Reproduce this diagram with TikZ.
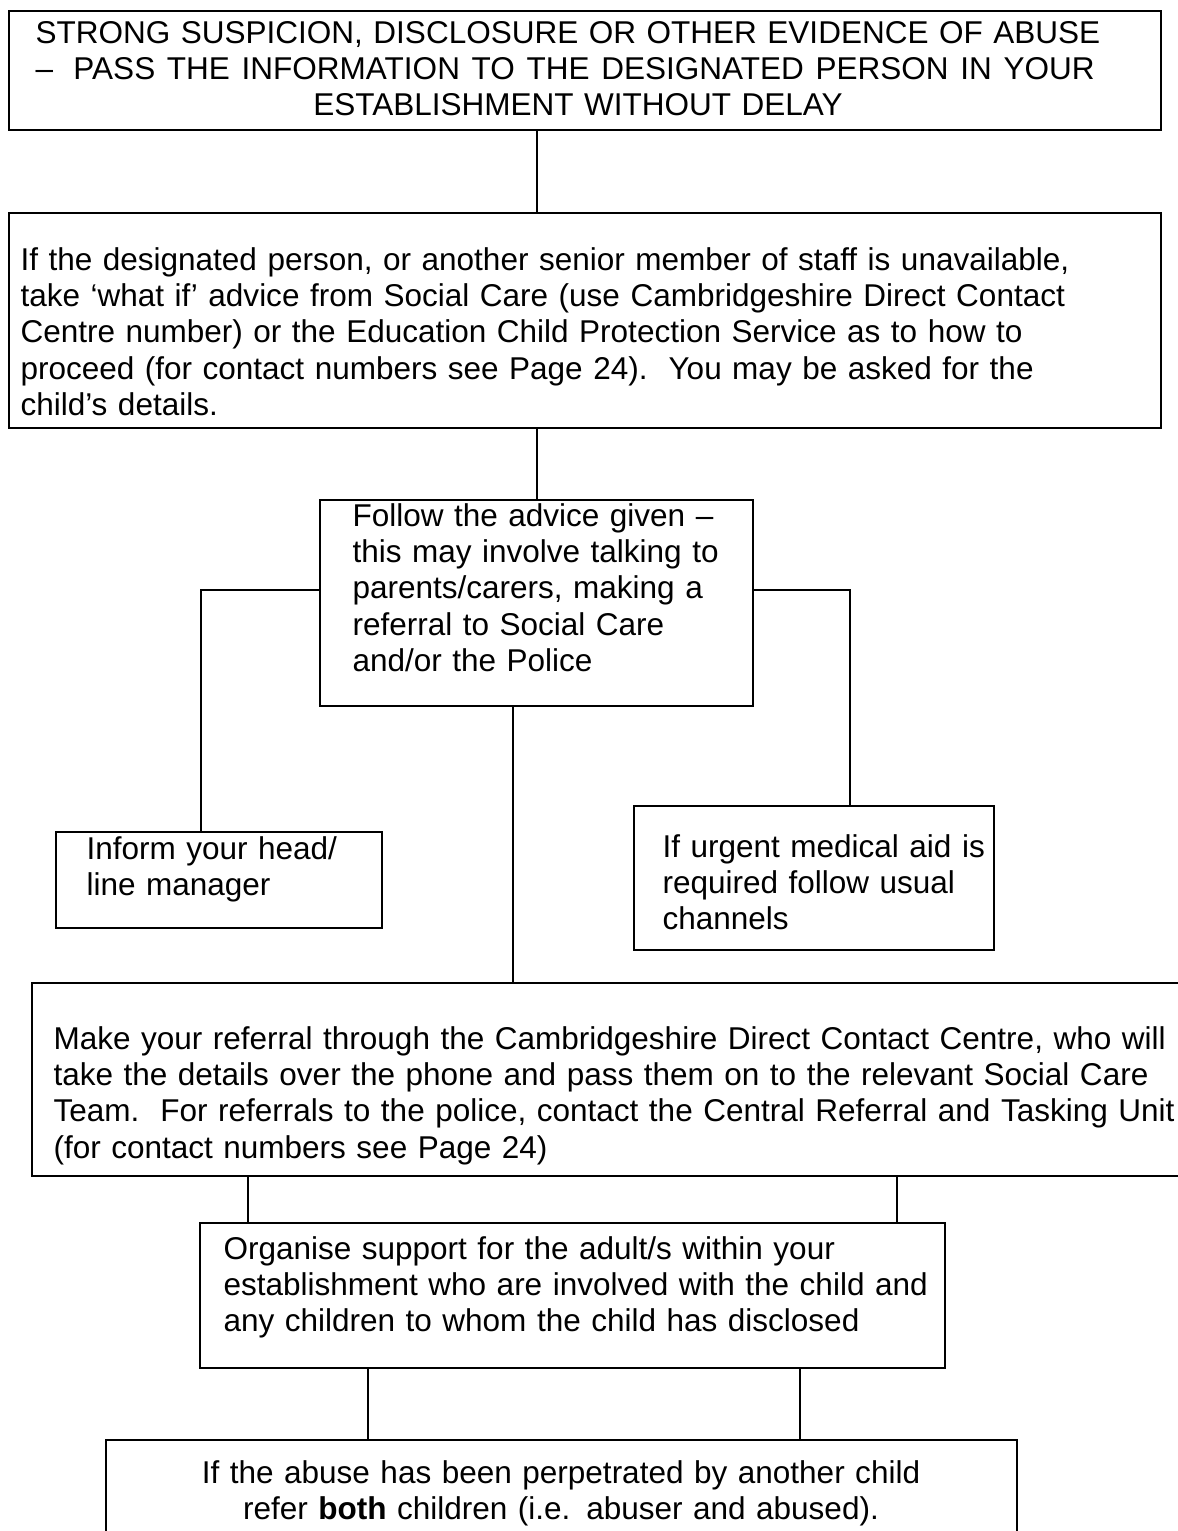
\documentclass[tikz,border=0pt]{standalone}
\usepackage{fontspec}
\setmainfont{Liberation Sans}
\usetikzlibrary{fit}
\begin{document}
\begin{tikzpicture}[x=0.3871pt,y=-0.3871pt,
  box/.style={draw,line width=0.8pt,inner sep=0pt},
  txt/.style={inner sep=0pt,anchor=base west,align=left,text width=460pt,font=\fontsize{12.2}{14.1}\selectfont},
  ctxt/.style={inner sep=0pt,anchor=base,align=center,text width=460pt,font=\fontsize{12.2}{14.1}\selectfont},
  link/.style={line width=0.55pt}]
\useasboundingbox (0,0) rectangle (1178,1531);
% boxes
\node[box,fit={(9,11) (1161,130)}] (b1) {};
\node[box,fit={(9,213) (1161,428)}] (b2) {};
\node[box,fit={(320,500) (753,706)}] (b3) {};
\node[box,fit={(56,832) (382,928)}] (b4) {};
\node[box,fit={(634,806) (994,950)}] (b5) {};
\node[box,fit={(32,983) (1200,1176)}] (b6) {};
\node[box,fit={(200,1223) (945,1368)}] (b7) {};
\node[box,fit={(106,1440) (1017,1560)}] (b8) {};
% texts
\node[txt] (t1) at (35,43) {STRONG SUSPICION, DISCLOSURE OR OTHER EVIDENCE OF ABUSE\\ \hbox to 410pt{\spaceskip=0.278em plus 1fil\relax –\hspace{0.278em} PASS THE INFORMATION TO THE DESIGNATED PERSON IN YOUR}};
\node[ctxt] (t1b) at (578,115) {ESTABLISHMENT WITHOUT DELAY};
\node[txt] (t2) at (20,270) {If the designated person, or another senior member of staff is unavailable,\\ take ‘what if’ advice from Social Care (use Cambridgeshire Direct Contact\\ Centre number) or the Education Child Protection Service as to how to\\ proceed (for contact numbers see Page 24).\ \ You may be asked for the\\ child’s details.};
\node[txt] (t3) at (352,526) {Follow the advice given –\\ this may involve talking to\\ parents/carers, making a\\ referral to Social Care\\ and/or the Police};
\node[txt] (t4) at (86,859) {Inform your head/\\ line manager};
\node[txt] (t5) at (662,857) {If urgent medical aid is\\ required follow usual\\ channels};
\node[txt] (t6) at (53,1049) {Make your referral through the Cambridgeshire Direct Contact Centre, who will\\ take the details over the phone and pass them on to the relevant Social Care\\ Team.\ \ For referrals to the police, contact the Central Referral and Tasking Unit\\ (for contact numbers see Page 24)};
\node[txt] (t7) at (223,1259) {Organise support for the adult/s within your\\ establishment who are involved with the child and\\ any children to whom the child has disclosed};
\node[ctxt] (t8) at (561,1483) {If the abuse has been perpetrated by another child\\ refer \textbf{both} children (i.e. abuser and abused).};
% connector x positions
\coordinate (xa) at (537,0);
\coordinate (lj) at (201,590);
\coordinate (rj) at (850,590);
\coordinate (xc) at (513,0);
\coordinate (xd) at (248,0);
\coordinate (xe) at (897,0);
\coordinate (xf) at (368,0);
\coordinate (xg) at (800,0);
% connectors
\draw[link] (b1.south -| xa) -- (b2.north -| xa);
\draw[link] (b2.south -| xa) -- (b3.north -| xa);
\draw[link] (b3.west |- lj) -| (b4.north -| lj);
\draw[link] (b3.east |- rj) -| (b5.north -| rj);
\draw[link] (b3.south -| xc) -- (b6.north -| xc);
\draw[link] (b6.south -| xd) -- (b7.north -| xd);
\draw[link] (b6.south -| xe) -- (b7.north -| xe);
\draw[link] (b7.south -| xf) -- (b8.north -| xf);
\draw[link] (b7.south -| xg) -- (b8.north -| xg);
\end{tikzpicture}
\end{document}
